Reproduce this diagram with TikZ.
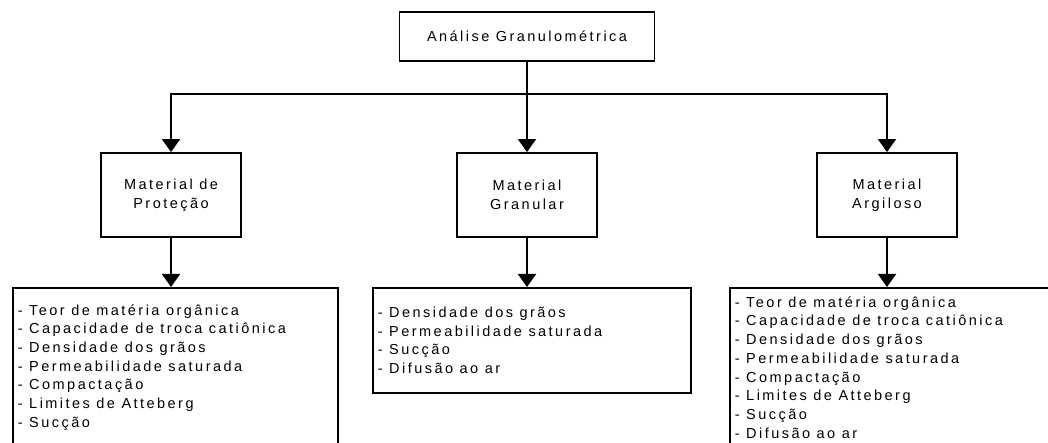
\documentclass[tikz,border=0pt]{standalone}
\usepackage{fontspec}
\setmainfont{Liberation Sans}[LetterSpace=17]
\usetikzlibrary{arrows.meta}
\newcommand\wsp{\spaceskip=6.5pt plus 1pt minus 1pt\xspaceskip=6.5pt\relax}
\newcommand\diagfont{\fontsize{14.5}{18.7}\selectfont\wsp}
\begin{document}
\begin{tikzpicture}[x=1pt,y=-1pt,line width=1.8pt,
  txt/.style={font=\diagfont},
  box/.style={draw,txt,inner sep=0pt,align=center},
  listbox/.style={draw,txt,inner xsep=5pt,inner ysep=0pt,align=left,anchor=north west},
  arr/.style={-{Triangle[width=18pt,length=13pt]}}]
\clip (0,0) rectangle (1048,443);
\node[box,minimum width=255pt,minimum height=49pt] (top) at (527,36.5) {Análise Granulométrica};
\node[box,minimum width=140pt,minimum height=84pt] (m1) at (171,195) {Material de\\Proteção};
\node[box,minimum width=140pt,minimum height=84pt] (m2) at (527,195) {Material\\Granular};
\node[box,minimum width=140pt,minimum height=84pt] (m3) at (887,195) {Material\\Argiloso};
\node[listbox,text width=315pt,minimum height=159pt] (l1) at (12,287) {\wsp - Teor de matéria orgânica\\- Capacidade de troca catiônica\\- Densidade dos grãos\\- Permeabilidade saturada\\- Compactação\\- Limites de Atteberg\\- Sucção};
\node[listbox,text width=308pt,minimum height=105pt] (l2) at (372,287) {\wsp - Densidade dos grãos\\- Permeabilidade saturada\\- Sucção\\- Difusão ao ar};
\node[listbox,text width=330pt,minimum height=159pt] (l3) at (729,287) {\wsp - Teor de matéria orgânica\\- Capacidade de troca catiônica\\- Densidade dos grãos\\- Permeabilidade saturada\\- Compactação\\- Limites de Atteberg\\- Sucção\\- Difusão ao ar};
\coordinate (j) at (527,94);
\draw[arr] (top.south) -- (m2.north);
\draw[arr] (j) -| (m1.north);
\draw[arr] (j) -| (m3.north);
\draw[arr] (m1.south) -- (m1.south |- l1.north);
\draw[arr] (m2.south) -- (m2.south |- l2.north);
\draw[arr] (m3.south) -- (m3.south |- l3.north);
\end{tikzpicture}
\end{document}
